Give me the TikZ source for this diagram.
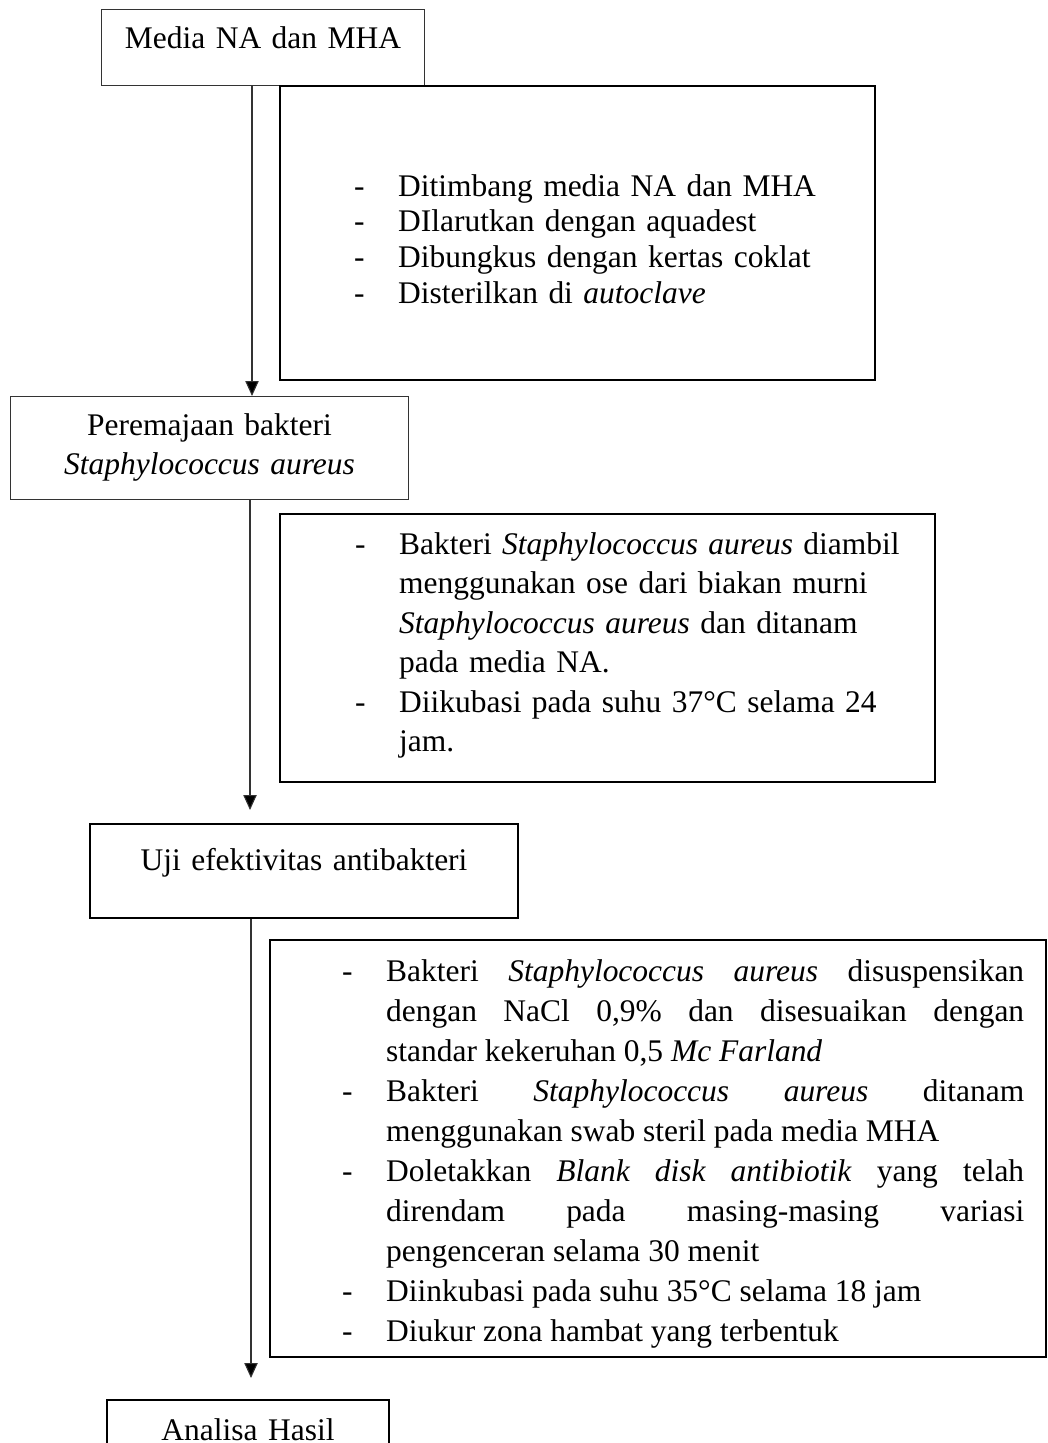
\documentclass[tikz,border=0pt]{standalone}
\usepackage{fontspec}
\setmainfont{Liberation Serif}
\usetikzlibrary{arrows.meta}
\tikzset{every picture/.style={x=0.375pt,y=-0.375pt,font=\fontsize{11.8pt}{14.6pt}\selectfont},
  mainbox/.style={draw=black!80, line width=0.4pt, inner sep=0pt, align=center, anchor=north west},
  stepsbox/.style={draw, line width=0.9pt, inner sep=0pt, anchor=north west},
  flow/.style={draw=black!80, line width=0.4pt, -{Triangle[length=5.6pt,width=5pt,fill=black]}}}
\newcommand{\dashitem}[1]{\leavevmode\llap{\makebox[16.5pt][l]{-}}#1\par}

\begin{document}
\begin{tikzpicture}
        \useasboundingbox (0,0) rectangle (1047,1443);
        \clip (0,0) rectangle (1047,1443);

        % Define the main steps
        \node[mainbox, text width=121.1pt, text height=14.6pt, text depth=13.9pt] (m1) at (101,9) {Media NA dan MHA};
        \node[mainbox, text width=149.25pt, text height=14.6pt, text depth=24pt] (m2) at (10,396) {Peremajaan bakteri\\\textit{Staphylococcus aureus}};
        \node[mainbox, draw=black, line width=0.75pt, text width=160.5pt, text height=17.6pt, text depth=17.6pt] (m3) at (89,823) {Uji efektivitas antibakteri};
        \node[mainbox, draw=black, line width=0.75pt, text width=105.75pt, text height=15pt, text depth=15pt] (m4) at (106,1399) {Analisa Hasil};

        % Define the boxes with the work done
        \node[stepsbox, text width=223.1pt, text height=41.25pt, text depth=69pt, align=left, font=\fontsize{11.8pt}{13.4pt}\selectfont] (d1) at (279,85)
          {\parindent=0pt \hyphenpenalty=10000 \leftskip=44.25pt
           \dashitem{Ditimbang media NA dan MHA}
           \dashitem{DIlarutkan dengan aquadest}
           \dashitem{Dibungkus dengan kertas coklat}
           \dashitem{Disterilkan di \textit{autoclave}}};
        \node[stepsbox, text width=245.6pt, text height=15pt, text depth=85.5pt, align=left, font=\fontsize{11.8pt}{14.8pt}\selectfont] (d2) at (279,513)
          {\parindent=0pt \hyphenpenalty=10000 \leftskip=44.6pt
           \dashitem{Bakteri \textit{Staphylococcus aureus} diambil\\ menggunakan ose dari biakan murni\\ \textit{Staphylococcus aureus} dan ditanam\\ pada media NA.}
           \dashitem{Diikubasi pada suhu 37°C selama 24\\ jam.}};
        \node[stepsbox, text width=291pt, text height=15.4pt, text depth=141pt, align=justify, font=\fontsize{11.8pt}{15pt}\selectfont] (d3) at (269,939)
          {\parindent=0pt \hyphenpenalty=10000 \leftskip=43.5pt \rightskip=8.25pt
           \dashitem{Bakteri \textit{Staphylococcus aureus} disuspensikan\linebreak dengan NaCl 0,9\% dan disesuaikan dengan\linebreak standar kekeruhan 0,5 \textit{Mc Farland}}
           \dashitem{Bakteri \textit{Staphylococcus aureus} ditanam\linebreak menggunakan swab steril pada media MHA}
           \dashitem{Doletakkan \textit{Blank disk antibiotik} yang telah\linebreak direndam pada masing-masing variasi\linebreak pengenceran selama 30 menit}
           \dashitem{Diinkubasi pada suhu 35°C selama 18 jam}
           \dashitem{Diukur zona hambat yang terbentuk}};

        % Draw the arrows
        \coordinate (x1) at (252,0);
        \coordinate (e2) at (250,810);
        \coordinate (e3) at (251,1378);
        \draw[flow] (m1.south -| x1) -- (m2.north -| x1);
        \draw[flow] (m2.south -| e2) -- (e2);
        \draw[flow] (m3.south -| e3) -- (e3);
    \end{tikzpicture}
\end{document}
